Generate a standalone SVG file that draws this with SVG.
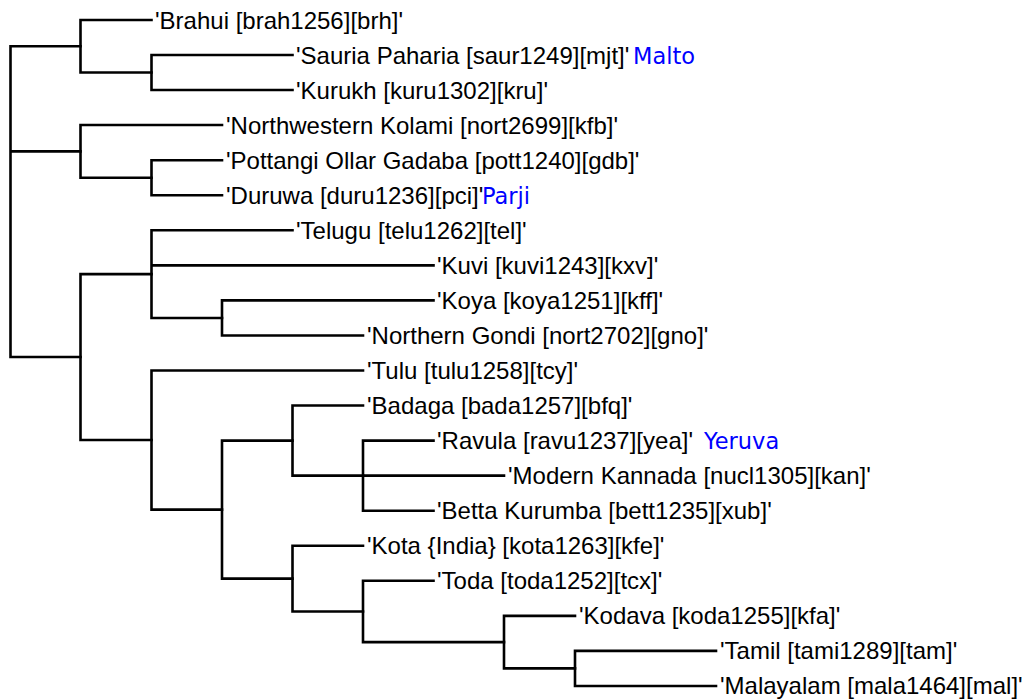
<svg xmlns="http://www.w3.org/2000/svg" width="1029" height="700" viewBox="0 0 1029 700">
<style>
.e{fill:none;stroke:#000;stroke-width:2.6;stroke-linejoin:miter;stroke-linecap:square}
.t{font-family:"Liberation Sans",Arial,sans-serif;font-size:24px;fill:#000}
.b{font-family:"DejaVu Sans",Verdana,sans-serif;font-size:22.5px;fill:#0000ff}
</style>
<rect width="1029" height="700" fill="#fff"/>
<g id="connectors">
<path class="e" d="M80.5 46.25H10.5V357H80.5M10.5 151.4H80.5"/>
<path class="e" d="M151.5 20H80.5V72.5H151.5"/>
<path class="e" d="M292.5 55H151.5V90H292.5"/>
<path class="e" d="M222 125H80.5V177.7H151.5"/>
<path class="e" d="M222 160.2H151.5V195.25H222"/>
<path class="e" d="M151.5 274.1H80.5V440H151.5"/>
<path class="e" d="M292.5 230.3H151.5V318H222M151.5 265.35H433.5"/>
<path class="e" d="M433.5 300.4H222V335.45H363"/>
<path class="e" d="M363 370.5H151.5V509.6H222"/>
<path class="e" d="M292.5 440.6H222V578.6H292.5"/>
<path class="e" d="M363 405.55H292.5V475.65H363"/>
<path class="e" d="M433.5 440.6H363V510.7H433.5M363 475.65H504"/>
<path class="e" d="M363 545.75H292.5V611.5H363"/>
<path class="e" d="M433.5 580.8H363V642.1H504"/>
<path class="e" d="M575 615.85H504V668.4H575"/>
<path class="e" d="M716 650.9H575V685.95H716"/>
</g>
<g id="n-brahui"><text class="t" x="155" y="28.5">'Brahui [brah1256][brh]'</text></g>
<g id="n-sauria"><text class="t" x="296" y="63.5">'Sauria Paharia [saur1249][mjt]'</text><text class="b" x="633" y="63.5">Malto</text></g>
<g id="n-kurukh"><text class="t" x="296" y="98.5">'Kurukh [kuru1302][kru]'</text></g>
<g id="n-nwkolami"><text class="t" x="226" y="133.5">'Northwestern Kolami [nort2699][kfb]'</text></g>
<g id="n-pottangi"><text class="t" x="226" y="168.5">'Pottangi Ollar Gadaba [pott1240][gdb]'</text></g>
<g id="n-duruwa"><text class="t" x="226" y="203.5">'Duruwa [duru1236][pci]'</text><text class="b" x="482" y="203.5">Parji</text></g>
<g id="n-telugu"><text class="t" x="296" y="238.5">'Telugu [telu1262][tel]'</text></g>
<g id="n-kuvi"><text class="t" x="437" y="273.5">'Kuvi [kuvi1243][kxv]'</text></g>
<g id="n-koya"><text class="t" x="437" y="308.5">'Koya [koya1251][kff]'</text></g>
<g id="n-ngondi"><text class="t" x="367" y="343.5">'Northern Gondi [nort2702][gno]'</text></g>
<g id="n-tulu"><text class="t" x="367" y="378.5">'Tulu [tulu1258][tcy]'</text></g>
<g id="n-badaga"><text class="t" x="367" y="413.5">'Badaga [bada1257][bfq]'</text></g>
<g id="n-ravula"><text class="t" x="437" y="448.5">'Ravula [ravu1237][yea]'</text><text class="b" x="704" y="448.5">Yeruva</text></g>
<g id="n-kannada"><text class="t" x="508" y="483.5">'Modern Kannada [nucl1305][kan]'</text></g>
<g id="n-betta"><text class="t" x="437" y="518.5">'Betta Kurumba [bett1235][xub]'</text></g>
<g id="n-kota"><text class="t" x="367" y="553.5">'Kota {India} [kota1263][kfe]'</text></g>
<g id="n-toda"><text class="t" x="437" y="588.5">'Toda [toda1252][tcx]'</text></g>
<g id="n-kodava"><text class="t" x="579" y="623.5">'Kodava [koda1255][kfa]'</text></g>
<g id="n-tamil"><text class="t" x="720" y="658.5">'Tamil [tami1289][tam]'</text></g>
<g id="n-malayalam"><text class="t" x="720" y="693.5">'Malayalam [mala1464][mal]'</text></g>
</svg>
